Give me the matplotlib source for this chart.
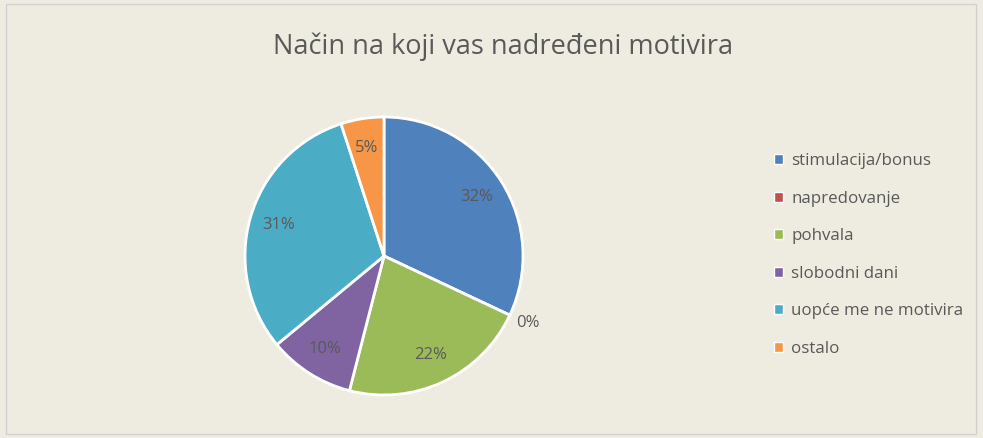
import matplotlib.pyplot as plt
import numpy as np
from matplotlib.patches import Patch, Rectangle

categories = ['stimulacija/bonus', 'napredovanje', 'pohvala', 'slobodni dani',
              'uopće me ne motivira', 'ostalo']
values = [32, 0, 22, 10, 31, 5]
colors = ['#4F81BD', '#C0504D', '#9BBB59', '#8064A2', '#4BACC6', '#F79646']
title = 'Način na koji vas nadređeni motivira'

plt.rcParams['font.family'] = ['Open Sans', 'DejaVu Sans']
txt = '#595959'
bg = '#EEECE1'

fig = plt.figure(figsize=(9.83, 4.38), dpi=100, facecolor=bg)
fig.patches.append(Rectangle((0.006, 0.008), 0.987, 0.984, transform=fig.transFigure,
                             fill=False, edgecolor='#D0D0D0', linewidth=1))

# pie placed by pixel centre/radius
cx, cy, r = 384 / 983, (438 - 256) / 438, 139
ax = fig.add_axes([cx - r / 983, cy - r / 438, 2 * r / 983, 2 * r / 438])
ax.set_facecolor(bg)
wedges, _ = ax.pie(values, colors=colors, startangle=90, counterclock=False,
                   wedgeprops=dict(edgecolor='white', linewidth=2))
ax.set_xlim(-1, 1)
ax.set_ylim(-1, 1)

for w, v in zip(wedges, values):
    ang = np.deg2rad((w.theta1 + w.theta2) / 2)
    d = 0.79 if v > 0 else 1.14
    ax.text(d * np.cos(ang), d * np.sin(ang), f'{v}%', ha='center', va='center',
            fontsize=12, color=txt)

fig.text(503 / 983, 1 - 47 / 438, title, ha='center', va='center', fontsize=19.5, color=txt)

handles = [Patch(facecolor=c, edgecolor='white', linewidth=1) for c in colors]
fig.legend(handles, categories, loc='center left', bbox_to_anchor=(0.772, 0.418),
           frameon=False, fontsize=12.2, labelcolor=txt, handlelength=0.55,
           handleheight=0.55, handletextpad=0.45, labelspacing=1.27)

fig.savefig('out.png', dpi=100, facecolor=bg)
